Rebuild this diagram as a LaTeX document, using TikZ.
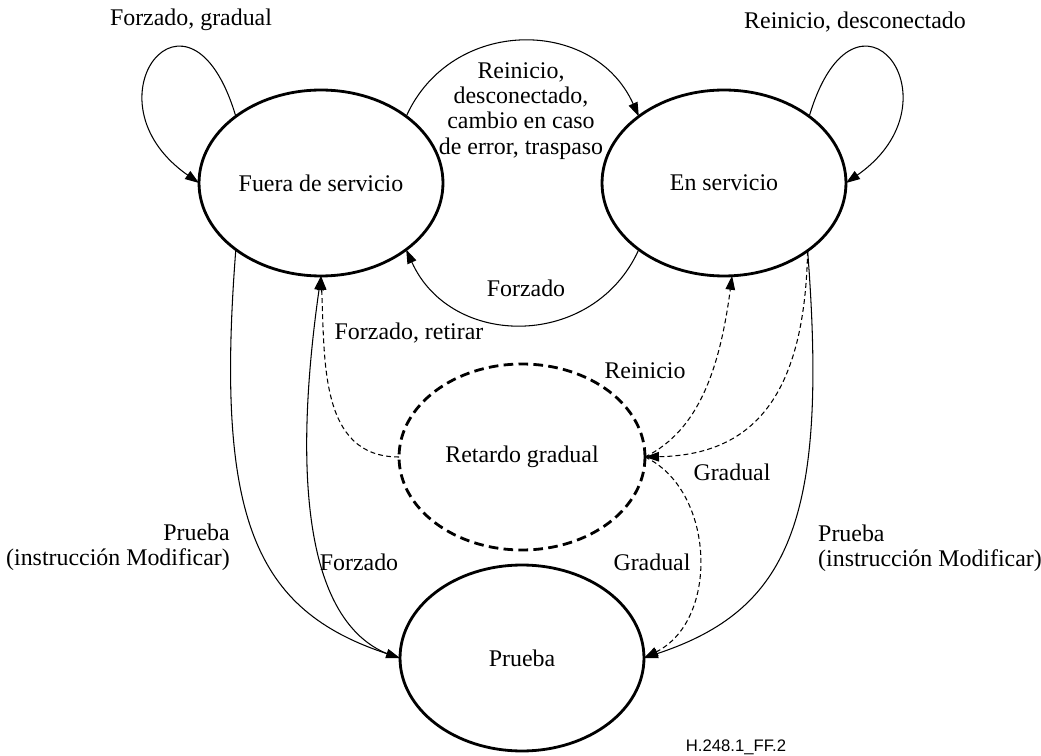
\documentclass[tikz,border=0pt]{standalone}
\usepackage{fontspec}
\setmainfont{Liberation Serif}
\newfontfamily\etiquetafont{Liberation Sans}
\usetikzlibrary{shapes.geometric,arrows.meta}

\tikzset{
  estado/.style={ellipse, draw, line width=1.6pt, minimum width=4.88cm,
    minimum height=3.72cm, inner sep=0pt, outer sep=0pt},
  flecha/.style={-{Triangle[length=0.28cm,width=0.19cm]}, line width=0.6pt},
  discont/.style={flecha, dash pattern=on 2.8pt off 1.8pt},
}

\begin{document}
\begin{tikzpicture}[x=0.02cm, y=-0.02cm, font=\fontsize{13.6}{14.3}\selectfont]
  \useasboundingbox (0,0) rectangle (1041,756);

  % estados
  \node[estado] (fuera) at (321,183) {Fuera de servicio};
  \node[estado] (en) at (724,183) {En servicio};
  \node[estado, dash pattern=on 5.5pt off 3pt, minimum width=4.92cm] (retardo) at (522,457) {Retardo gradual};
  \node[estado] (prueba) at (522,658) {Prueba};

  % bucles
  \draw[flecha] (fuera.142) .. controls +(-46,-155) and +(-119,-83) .. (fuera.180);
  \draw[flecha] (en.38) .. controls +(46,-155) and +(119,-83) .. (en.0);

  % arriba y en medio
  \draw[flecha] (fuera.38) .. controls +(45,-100) and +(-45,-100) .. (en.142);
  \draw[flecha] (en.218) .. controls +(-45,100) and +(45,100) .. (fuera.322);

  % hacia prueba
  \draw[flecha] (fuera.218) .. controls +(-21,270) and +(-145,-48) .. (prueba.180);
  \draw[flecha] (prueba.180) .. controls +(-110,-28) and +(-22,154) .. (fuera.270);
  \draw[flecha] (en.321) .. controls +(21,270) and +(145,-48) .. (prueba.0);

  % retardo gradual
  \draw[discont] (retardo.180) .. controls +(-80,0) and +(4,84) .. (fuera.270);
  \draw[discont] (retardo.0) .. controls +(55,-27) and +(-12,90) .. (en.275);
  \draw[discont] (en.321) .. controls +(-3,150) and +(105,-2) .. (retardo.0);
  \draw[discont] (retardo.0) .. controls +(70,33) and +(76,-38) .. (prueba.0);

  % textos
  \node (tForzGrad) at (191,20) {Forzado, gradual};
  \node (tReinDesc) at (855,22) {Reinicio, desconectado};
  \node[align=center] (tArriba) at (521,111) {Reinicio,\\desconectado,\\cambio en caso\\de error, traspaso};
  \node (tForzado) at (526,288) {Forzado};
  \node (tRetirar) at (409,333) {Forzado, retirar};
  \node (tReinicio) at (645,371) {Reinicio};
  \node (tGradualA) at (732,472) {Gradual};
  \node (tGradualB) at (652,562) {Gradual};
  \node (tForzadoB) at (359,562) {Forzado};
  \node[anchor=east, align=right] (tPruebaIzq) at (236,547) {Prueba\\(instrucción Modificar)};
  \node[anchor=west, align=left] (tPruebaDer) at (812,548) {Prueba\\(instrucción Modificar)};
  \node[font=\etiquetafont\fontsize{9.5}{11}\selectfont] (tRef) at (736,747) {H.248.1\_FF.2};
\end{tikzpicture}
\end{document}
